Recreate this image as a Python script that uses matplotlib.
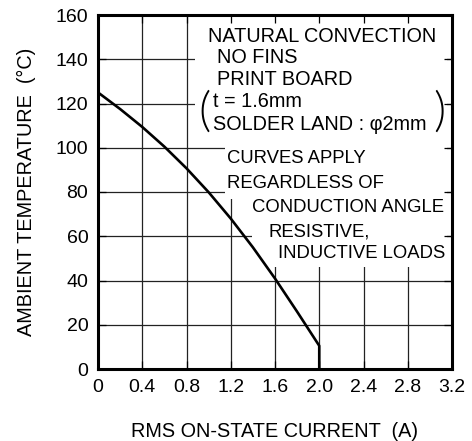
import matplotlib.pyplot as plt
from matplotlib.patches import Rectangle

plt.rcParams['font.family'] = ['Liberation Sans', 'DejaVu Sans']

# derating curve
current = [0, 0.2, 0.4, 0.6, 0.8, 1.0, 1.2, 1.4, 1.6, 1.8, 2.0, 2.0]
temp = [125, 117.5, 109.4, 100.5, 90.7, 79.9, 68.0, 55.0, 40.9, 25.9, 10.5, 0]

x_ticks = [0, 0.4, 0.8, 1.2, 1.6, 2.0, 2.4, 2.8, 3.2]
x_labels = ['0', '0.4', '0.8', '1.2', '1.6', '2.0', '2.4', '2.8', '3.2']
y_ticks = [0, 20, 40, 60, 80, 100, 120, 140, 160]

note1 = ['NATURAL CONVECTION', 'NO FINS', 'PRINT BOARD', 't = 1.6mm', 'SOLDER LAND : \u03c62mm']
note1_x = [0.994, 1.076, 1.076, 1.040, 1.040]
note1_y = [147.9, 138.2, 128.4, 118.6, 108.0]
note2 = ['CURVES APPLY', 'REGARDLESS OF', 'CONDUCTION ANGLE', 'RESISTIVE,', 'INDUCTIVE LOADS']
note2_x = [1.166, 1.166, 1.392, 1.537, 1.627]
note2_y = [93.0, 81.7, 71.1, 59.8, 50.0]

fig = plt.figure(figsize=(4.72, 4.41), dpi=100)
ax = fig.add_axes([98 / 472, 72 / 441, 354 / 472, 354 / 441])

ax.set_xlim(0, 3.2)
ax.set_ylim(0, 160)

# grid drawn by hand so the white masks can sit above it and below the ticks
for xv in x_ticks[1:-1]:
    ax.axvline(xv, color='#222222', lw=0.9, zorder=1)
for yv in y_ticks[1:-1]:
    ax.axhline(yv, color='#222222', lw=0.9, zorder=1)

# white areas behind the notes
for x0, y0, x1, y1 in [(0.877, 108.0, 3.155, 160), (1.148, 77.0, 3.155, 108.5), (1.392, 46.1, 3.155, 77.5)]:
    ax.add_patch(Rectangle((x0, y0), x1 - x0, y1 - y0, facecolor='white', edgecolor='none', zorder=1.5))

ax.plot(current, temp, color='black', lw=1.9, zorder=4)

for s, xx, yy in zip(note1, note1_x, note1_y):
    ax.text(xx, yy, s, fontsize=14.3, va='baseline', ha='left', zorder=3)
for s, xx, yy in zip(note2, note2_x, note2_y):
    ax.text(xx, yy, s, fontsize=13.3, va='baseline', ha='left', zorder=3)
ax.text(0.905, 116, '(', fontsize=34, family='Lato', fontweight=300,
        va='center', ha='left', zorder=3)
ax.text(3.14, 116, ')', fontsize=34, family='Lato', fontweight=300,
        va='center', ha='right', zorder=3)

ax.set_xticks(x_ticks)
ax.set_xticklabels(x_labels)
ax.set_yticks(y_ticks)
ax.tick_params(direction='in', length=6, width=0.9, top=True, right=True,
               labelsize=14, pad=7)
for sp in ax.spines.values():
    sp.set_linewidth(2.2)
    sp.set_zorder(5)

ax.set_xlabel('RMS ON-STATE CURRENT  (A)', fontsize=14.3, labelpad=19)
ax.set_ylabel('AMBIENT TEMPERATURE  (\u00b0C)', fontsize=14.3, labelpad=14)

fig.savefig('out.png', dpi=100)
